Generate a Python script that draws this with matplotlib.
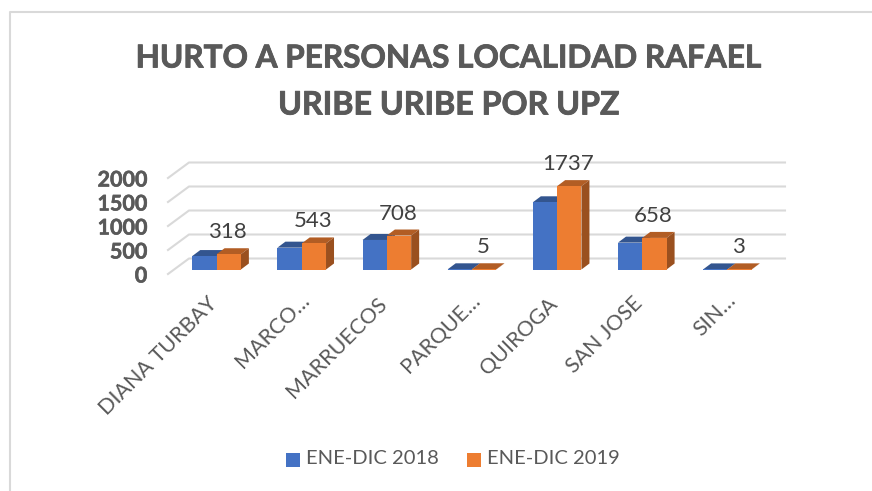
import matplotlib
matplotlib.use("Agg")
import matplotlib.pyplot as plt
import matplotlib.patheffects as pe
from matplotlib.patches import Polygon, Rectangle
from matplotlib.transforms import ScaledTranslation

plt.rcParams['font.family'] = ['Lato', 'DejaVu Sans']

categories = ["DIANA TURBAY", "MARCO…", "MARRUECOS", "PARQUE…", "QUIROGA", "SAN JOSE", "SIN…"]
values_2018 = [280, 455, 615, 4, 1400, 560, 2]
values_2019 = [318, 543, 708, 5, 1737, 658, 3]
series_names = ["ENE-DIC 2018", "ENE-DIC 2019"]
y_ticks = [0, 500, 1000, 1500, 2000]

W, H = 872, 491
BLUE, BLUE_TOP = "#4472c4", "#33558f"
ORANGE, ORANGE_TOP, ORANGE_SIDE = "#ed7d31", "#b25d24", "#9a501f"
GRID = "#d9d9d9"
TEXT = "#595959"

fig = plt.figure(figsize=(W / 100, H / 100), dpi=100)
fig.patch.set_facecolor("white")

# front plane of the fake 3d box, in pixels
left, right, bottom, top = 168, 764, 274, 178
ax = fig.add_axes([left / W, 1 - bottom / H, (right - left) / W, (bottom - top) / H])
ax.set_xlim(-0.5, 6.5)
ax.set_ylim(0, 2000)
ax.patch.set_alpha(0)
for s in ax.spines.values():
    s.set_visible(False)

# pixel to data helpers
px_x = 7 / (right - left)
px_y = 2000 / (bottom - top)
wall_dx, wall_dy = 21 * px_x, 15.5 * px_y
bar_off_x, bar_off_y = 6 * px_x, 4.5 * px_y
depth_x, depth_y = 8 * px_x, 6 * px_y
bar_w = 24.3 * px_x

for t in y_ticks:
    ax.plot([-0.5, -0.5 + wall_dx, 6.5 + wall_dx], [t, t + wall_dy, t + wall_dy],
            color=GRID, lw=1.5, clip_on=False, zorder=1)


def draw_bar(x0, h, face, top_c, side_c, z):
    x = x0 + bar_off_x
    y0 = bar_off_y
    y1 = y0 + h
    ax.add_patch(Rectangle((x, y0), bar_w, h, fc=face, ec="none", clip_on=False, zorder=z + 1))
    ax.add_patch(Polygon([(x, y1), (x + depth_x, y1 + depth_y), (x + bar_w + depth_x, y1 + depth_y),
                          (x + bar_w, y1)], fc=top_c, ec="none", clip_on=False, zorder=z))
    ax.add_patch(Polygon([(x + bar_w, y0), (x + bar_w + depth_x, y0 + depth_y),
                          (x + bar_w + depth_x, y1 + depth_y), (x + bar_w, y1)],
                         fc=side_c, ec="none", clip_on=False, zorder=z))


for i in range(len(categories)):
    draw_bar(i - bar_w, values_2018[i], BLUE, BLUE_TOP, BLUE_TOP, 3)
    draw_bar(i, values_2019[i], ORANGE, ORANGE_TOP, ORANGE_SIDE, 5)
    ax.annotate(str(values_2019[i]), (i + bar_off_x, values_2019[i] + bar_off_y + depth_y),
                xytext=(11, 6), textcoords="offset pixels", ha="center", va="bottom",
                fontsize=16, color="#404040", zorder=8, annotation_clip=False)

ax.set_yticks(y_ticks)
ax.set_yticklabels([str(t) for t in y_ticks], fontsize=15.5, fontweight="bold", color=TEXT,
                   path_effects=[pe.withStroke(linewidth=0.4, foreground=TEXT)])
ax.tick_params(axis="y", length=0, pad=15)
ax.set_xticks(range(len(categories)))
ax.set_xticklabels(categories, rotation=45, ha="right", rotation_mode="anchor",
                   fontsize=15.5, color=TEXT)
ax.tick_params(axis="x", length=0, pad=14)

# truncated labels stick out further in the original
for lab in ax.get_xticklabels():
    dx = 0.04 if lab.get_text().endswith("…") else -0.04
    dy = 0.03 if lab.get_text().endswith("…") else 0
    lab.set_transform(lab.get_transform() + ScaledTranslation(dx, dy, fig.dpi_scale_trans))

title_fx = [pe.withStroke(linewidth=0.6, foreground=TEXT)]
fig.text(448 / W, 1 - 58 / H, "HURTO A PERSONAS LOCALIDAD RAFAEL", ha="center", va="center",
         fontsize=22.7, fontweight="bold", color=TEXT, path_effects=title_fx)
fig.text(449 / W, 1 - 105 / H, "URIBE URIBE POR UPZ", ha="center", va="center",
         fontsize=23.2, fontweight="bold", color=TEXT, path_effects=title_fx)

# legend by hand to get exact spacing
for x0, c, name in zip([286, 467], [BLUE, ORANGE], series_names):
    fig.patches.append(Rectangle((x0 / W, 1 - 467 / H), 14 / W, 14 / H, transform=fig.transFigure,
                                 fc=c, ec="none"))
    fig.text((x0 + 20) / W, 1 - 459 / H, name, ha="left", va="center", fontsize=14.5, color=TEXT)

# chart frame, open on the right and bottom
fig.add_artist(plt.Line2D([10 / W, 10 / W, 1],
                          [0, 1 - 12 / H, 1 - 12 / H], color=GRID, lw=1.5))

fig.savefig("out.png", dpi=100)
